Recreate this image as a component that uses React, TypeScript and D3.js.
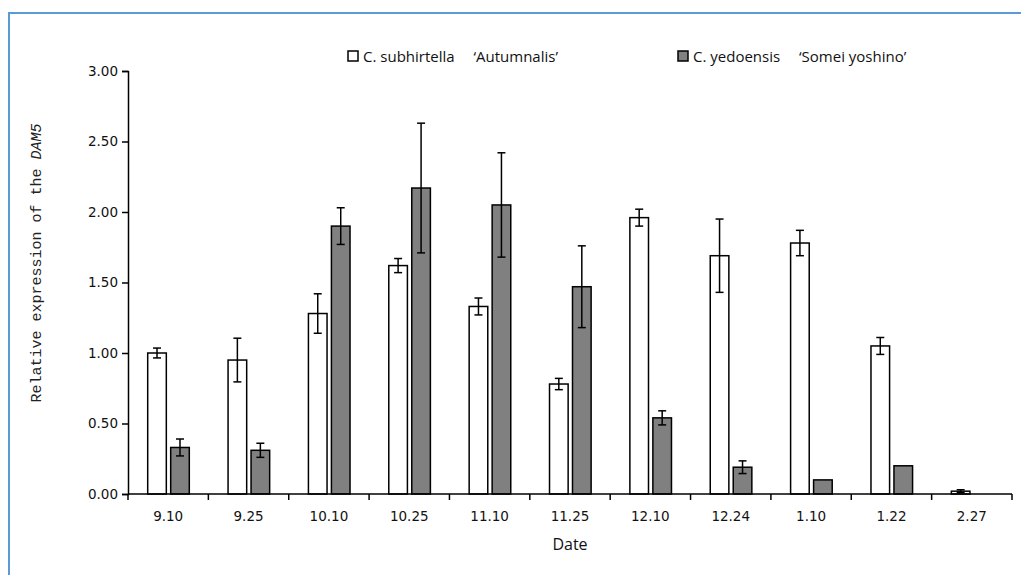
import React, { useEffect, useRef } from "react";
import * as d3 from "d3";

// sampling dates
const dates = ["9.10", "9.25", "10.10", "10.25", "11.10", "11.25", "12.10", "12.24", "1.10", "1.22", "2.27"];

// C. subhirtella 'Autumnalis'
const autumnalis = [1.0, 0.95, 1.28, 1.62, 1.33, 0.78, 1.96, 1.69, 1.78, 1.05, 0.02];
const autumnalisErr = [0.035, 0.155, 0.14, 0.05, 0.06, 0.04, 0.06, 0.26, 0.09, 0.06, 0.01];

// C. yedoensis 'Somei yoshino'
const someiYoshino = [0.33, 0.31, 1.9, 2.17, 2.05, 1.47, 0.54, 0.19, 0.1, 0.2, 0];
const someiYoshinoErr = [0.06, 0.05, 0.13, 0.46, 0.37, 0.29, 0.05, 0.045, 0, 0, 0];

const yTicks = [0, 0.5, 1, 1.5, 2, 2.5, 3];

const seriesNames = ["C. subhirtella \u2003\u2018Autumnalis\u2019", "C. yedoensis \u2003\u2018Somei yoshino\u2019"];
const seriesFill = ["#ffffff", "#808080"];

const W = 1021;
const H = 575;

function drawChart(el: SVGSVGElement) {
  const svg = d3.select(el);
  svg.selectAll("*").remove();

  const margin = { left: 128, right: 9, top: 71, bottom: 81 };
  const x0 = d3.scaleBand().domain(dates).range([margin.left, W - margin.right]).padding(0);
  const x1 = d3.scaleBand().domain(["a", "b"]).range([19.7, 61.3]).paddingInner(0.19).paddingOuter(0);
  const y = d3.scaleLinear().domain([0, 3]).range([H - margin.bottom, margin.top]);

  // blue frame
  svg.append("line").attr("x1", 9).attr("x2", W).attr("y1", 13).attr("y2", 13)
    .attr("stroke", "#5b9bd5").attr("stroke-width", 2);
  svg.append("line").attr("x1", 9).attr("x2", 9).attr("y1", 12).attr("y2", H)
    .attr("stroke", "#5b9bd5").attr("stroke-width", 2);

  const series = [
    { key: "a", vals: autumnalis, err: autumnalisErr, fill: seriesFill[0] },
    { key: "b", vals: someiYoshino, err: someiYoshinoErr, fill: seriesFill[1] },
  ];

  const g = svg.append("g");
  series.forEach((s) => {
    dates.forEach((d, i) => {
      const v = s.vals[i];
      if (v <= 0) return;
      const bx = (x0(d) as number) + (x1(s.key) as number);
      g.append("rect")
        .attr("x", bx)
        .attr("y", y(v))
        .attr("width", x1.bandwidth())
        .attr("height", y(0) - y(v))
        .attr("fill", s.fill)
        .attr("stroke", "#000")
        .attr("stroke-width", 1.5);
      const e = s.err[i];
      if (e > 0) {
        const cx = bx + x1.bandwidth() / 2;
        const cap = 4;
        g.append("line").attr("x1", cx).attr("x2", cx).attr("y1", y(v + e)).attr("y2", y(Math.max(0, v - e)))
          .attr("stroke", "#000").attr("stroke-width", 1.5);
        [v + e, Math.max(0, v - e)].forEach((t) => {
          g.append("line").attr("x1", cx - cap).attr("x2", cx + cap).attr("y1", y(t)).attr("y2", y(t))
            .attr("stroke", "#000").attr("stroke-width", 1.5);
        });
      }
    });
  });

  // y axis
  const yAxis = svg.append("g").attr("transform", `translate(${margin.left},0)`)
    .call(d3.axisLeft(y).tickValues(yTicks).tickFormat(d3.format(".2f")).tickSizeOuter(0).tickSize(6).tickPadding(4));
  yAxis.select(".domain").attr("stroke", "#000").attr("stroke-width", 1.5);
  yAxis.selectAll(".tick line").attr("stroke", "#000").attr("stroke-width", 1.5);
  yAxis.selectAll("text").attr("font-family", "DejaVu Sans, Verdana, sans-serif").attr("font-size", 13.5).attr("fill", "#111");

  // x axis with ticks at band boundaries
  const xg = svg.append("g");
  xg.append("line").attr("x1", margin.left).attr("x2", W - margin.right).attr("y1", y(0)).attr("y2", y(0))
    .attr("stroke", "#000").attr("stroke-width", 1.5);
  [...dates.map((d) => x0(d) as number), W - margin.right].forEach((tx) => {
    xg.append("line").attr("x1", tx).attr("x2", tx).attr("y1", y(0)).attr("y2", y(0) + 6)
      .attr("stroke", "#000").attr("stroke-width", 1.5);
  });
  dates.forEach((d) => {
    xg.append("text")
      .attr("x", (x0(d) as number) + x0.bandwidth() / 2)
      .attr("y", 521)
      .attr("text-anchor", "middle")
      .attr("font-family", "DejaVu Sans, Verdana, sans-serif")
      .attr("font-size", 13.5)
      .attr("fill", "#111")
      .text(d);
  });

  // axis titles
  svg.append("text").attr("x", 570).attr("y", 550).attr("text-anchor", "middle")
    .attr("font-family", "Open Sans, sans-serif").attr("font-size", 16).attr("fill", "#111").text("Date");

  const yl = svg.append("text")
    .attr("transform", "translate(41,263) rotate(-90)")
    .attr("text-anchor", "middle")
    .attr("font-family", "'Liberation Mono', 'Courier New', monospace")
    .attr("font-size", 15)
    .attr("fill", "#222");
  yl.append("tspan").text("Relative expression of the ");
  yl.append("tspan").attr("font-style", "italic").text("DAM5");

  // legend
  const legendX = [348, 678];
  seriesNames.forEach((name, i) => {
    const lg = svg.append("g").attr("transform", `translate(${legendX[i]},51)`);
    lg.append("rect").attr("width", 10).attr("height", 10).attr("fill", seriesFill[i])
      .attr("stroke", "#000").attr("stroke-width", 1.5);
    lg.append("text").attr("x", 15).attr("y", 11)
      .attr("font-family", "Open Sans, sans-serif").attr("font-size", 15).attr("fill", "#111").text(name);
  });
}

export default function App() {
  const ref = useRef<SVGSVGElement>(null);
  useEffect(() => {
    if (ref.current) drawChart(ref.current);
  }, []);
  return (
    <svg
      ref={ref}
      width={W}
      height={H}
      style={{ position: "absolute", left: 0, top: 0, background: "#fff" }}
    />
  );
}
